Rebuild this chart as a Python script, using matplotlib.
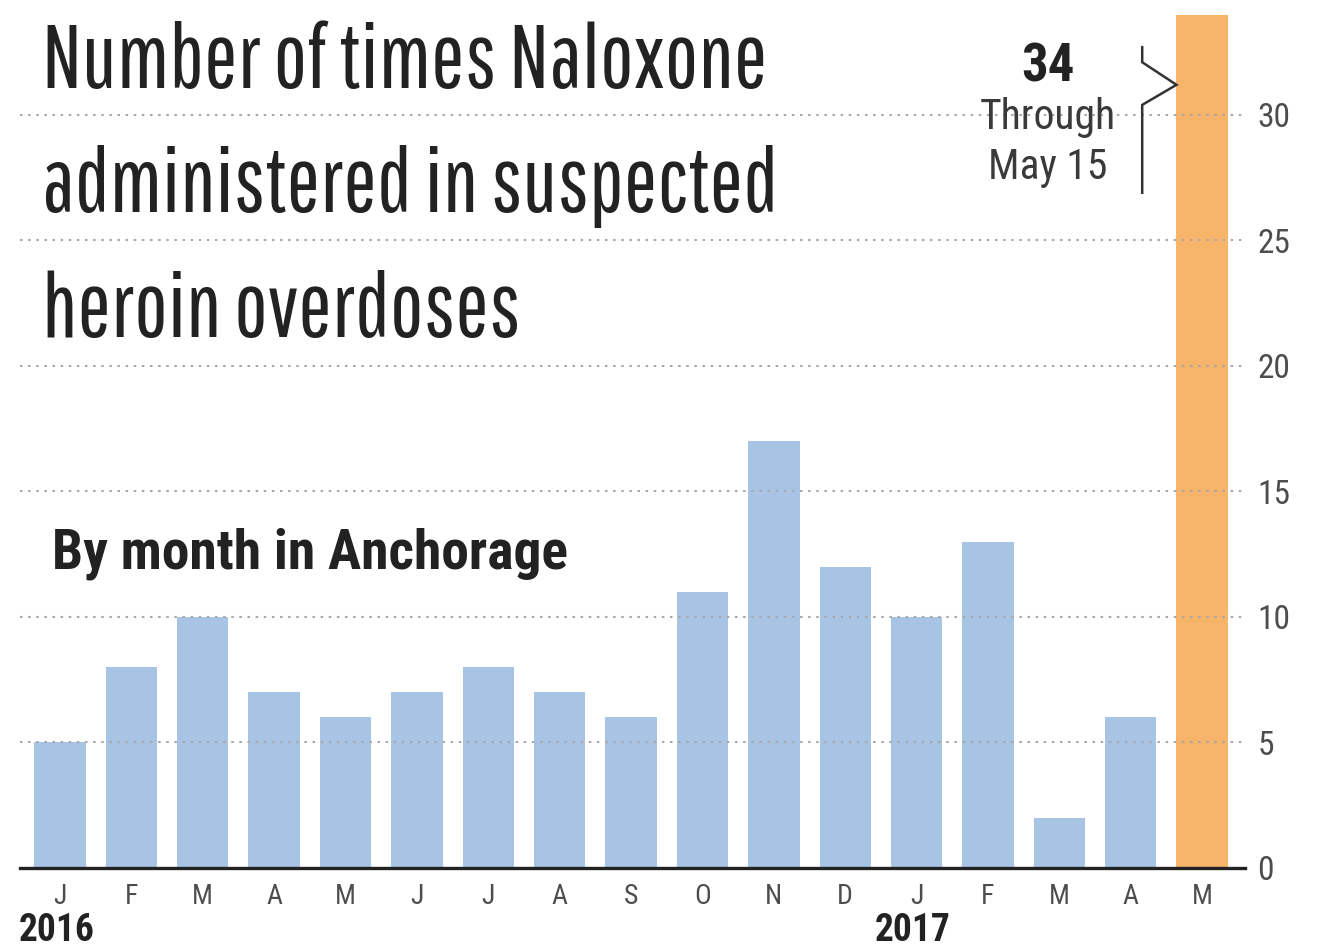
import matplotlib
matplotlib.use("Agg")
import matplotlib.pyplot as plt
import matplotlib.transforms as mtransforms

# Data
months = ["J", "F", "M", "A", "M", "J", "J", "A", "S", "O", "N", "D",
          "J", "F", "M", "A", "M"]
values = [5, 8, 10, 7, 6, 7, 8, 7, 6, 11, 17, 12, 10, 13, 2, 6, 34]
years = ["2016", "2017"]
year_pos = [0, 12]
yticks = [0, 5, 10, 15, 20, 25, 30]

title_lines = ["Number of times Naloxone", "administered in suspected", "heroin overdoses"]
subtitle = "By month in Anchorage"
note_lines = ["Through", "May 15"]

BLUE = "#a7c4e5"
ORANGE = "#f7b46b"
DARK = "#222222"
GREY = "#4d4d4d"

TITLE_FONT = ["Pathway Gothic One", "Oswald", "Roboto Condensed", "DejaVu Sans"]
COND_FONT = ["Roboto Condensed", "Barlow Condensed", "DejaVu Sans"]

fig = plt.figure(figsize=(13.22, 9.48), dpi=100)
ax = fig.add_axes([20 / 1322, 80 / 948, 1225 / 1322, 861 / 948])

colors = [BLUE] * (len(values) - 1) + [ORANGE]
bar_w = 0.72
x = list(range(len(values)))
ax.bar(x, values, width=bar_w, color=colors, zorder=1)

ax.set_xlim(-0.56, 16.6)
ax.set_ylim(0, 34.3)

# dotted gridlines, they run over the bars too
for v in yticks[1:]:
    ax.axhline(v, color="#a8a8a8", lw=1.5, ls=(0, (1.2, 2.7)), zorder=2)

for s in ["top", "left", "right"]:
    ax.spines[s].set_visible(False)
ax.spines["bottom"].set_color(DARK)
ax.spines["bottom"].set_linewidth(2.4)
ax.spines["bottom"].set_zorder(3)

ax.set_xticks(x)
ax.set_xticklabels(months, fontsize=20, color=GREY, family=COND_FONT)
ax.tick_params(axis="x", length=0, pad=11)

ax.yaxis.tick_right()
ax.set_yticks(yticks)
ax.set_yticklabels([str(t) for t in yticks], fontsize=24, color=GREY, family=COND_FONT)
ax.tick_params(axis="y", length=0, pad=9)

# year labels under the January bars
trans = mtransforms.blended_transform_factory(ax.transData, ax.transAxes)
for pos, yr in zip(year_pos, years):
    ax.text(pos - 0.05, -0.073, yr, transform=trans, ha="center", va="center",
            fontsize=27, fontweight="bold", color=DARK, family=COND_FONT)

# title and subtitle
for i, line in enumerate(title_lines):
    fig.text(42 / 1322, 1 - (88 + 124.5 * i) / 948, line, fontsize=64,
             color=DARK, family=TITLE_FONT, va="baseline", ha="left")
fig.text(52 / 1322, 1 - 568 / 948, subtitle, fontsize=40, fontweight="bold",
         color=DARK, family=COND_FONT, va="baseline", ha="left")

# annotation for the partial month
last = len(values) - 1
ax.text(13.84, 31.35, str(values[-1]), fontsize=38, fontweight="bold", color=DARK,
        family=COND_FONT, ha="center", va="baseline")
ax.text(13.84, 29.45, note_lines[0], fontsize=30, color="#3a3a3a",
        family=COND_FONT, ha="center", va="baseline")
ax.text(13.84, 27.45, note_lines[1], fontsize=30, color="#3a3a3a",
        family=COND_FONT, ha="center", va="baseline")

tip = last - bar_w / 2
bx = 15.16
ax.plot([bx, bx, tip, bx, bx], [32.7, 32.1, 31.2, 30.4, 26.9],
        color="#333333", lw=1.8, solid_joinstyle="miter", zorder=4, clip_on=False)

fig.savefig("out.png", dpi=100)
